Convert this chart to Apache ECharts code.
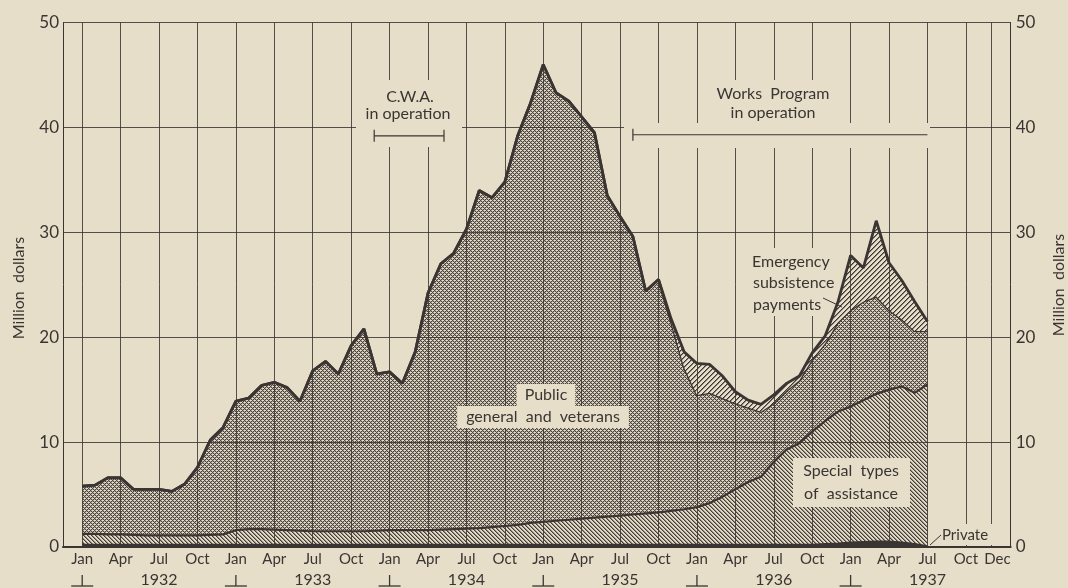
<!DOCTYPE html>
<html><head><meta charset="utf-8">
<script src="https://cdn.jsdelivr.net/npm/echarts@6/dist/echarts.min.js"></script>
<style>html,body{margin:0;padding:0;background:#e7dec9;}#c{width:1068px;height:588px;}</style>
</head><body><div id="c"></div>
<script>
// ---- data (month index 0 = Jan 1932, 66 = Jul 1937), million dollars ----
const monthNames = ['Jan','Feb','Mar','Apr','May','Jun','Jul','Aug','Sep','Oct','Nov','Dec'];
const xTickMonths = [0,3,6,9,12,15,18,21,24,27,30,33,36,39,42,45,48,51,54,57,60,63,66,69,71];
const xTickLabels = ['Jan','Apr','Jul','Oct','Jan','Apr','Jul','Oct','Jan','Apr','Jul','Oct',
  'Jan','Apr','Jul','Oct','Jan','Apr','Jul','Oct','Jan','Apr','Jul','Oct','Dec'];
const yearMonths = [6,18,30,42,54,66];
const yearLabels = ['1932','1933','1934','1935','1936','1937'];
const yearBreaks = [0,12,24,36,48,60];
const yTicks = [10,20,30,40,50];

const privateAid = [0.25,0.25,0.25,0.25,0.25,0.25,0.25,0.25,0.25,0.25,0.25,0.25,
  0.25,0.25,0.25,0.25,0.25,0.25,0.25,0.25,0.25,0.25,0.25,0.25,
  0.25,0.25,0.25,0.25,0.25,0.25,0.25,0.25,0.25,0.25,0.25,0.25,
  0.25,0.25,0.25,0.25,0.25,0.25,0.25,0.25,0.25,0.25,0.25,0.25,
  0.25,0.25,0.25,0.25,0.25,0.25,0.25,0.25,0.25,0.25,0.3,0.35,
  0.45,0.5,0.55,0.55,0.45,0.3,0.1];
const specialTypes = [1.0,1.0,0.95,0.95,0.9,0.85,0.85,0.85,0.85,0.85,0.9,0.95,
  1.35,1.45,1.45,1.4,1.35,1.3,1.25,1.25,1.25,1.25,1.25,1.3,
  1.35,1.35,1.35,1.35,1.4,1.45,1.5,1.55,1.65,1.75,1.85,2.05,
  2.15,2.25,2.35,2.45,2.55,2.65,2.75,2.85,2.95,3.05,3.2,3.35,
  3.55,3.95,4.55,5.25,5.95,6.45,7.85,9.05,9.65,10.75,11.7,12.55,
  12.95,13.5,14.05,14.45,14.85,14.4,15.4];
const publicGeneral = [4.55,4.65,5.4,5.4,4.35,4.4,4.4,4.2,4.9,6.5,9.05,10.2,
  12.3,12.5,13.7,14.05,13.6,12.35,15.3,16.2,15.0,17.7,19.3,14.95,
  15.1,14.0,17.0,22.6,25.35,26.3,28.55,32.2,31.4,32.8,37.1,40.0,
  43.6,40.8,39.9,38.3,36.7,30.6,28.5,26.5,21.2,22.2,17.95,13.5,
  10.7,10.5,9.4,8.2,7.1,6.2,5.6,5.6,6.0,6.9,7.4,8.5,
  9.2,9.4,9.3,7.6,6.4,5.9,5.1];
const emergencySubsistence = [0,0,0,0,0,0,0,0,0,0,0,0,
  0,0,0,0,0,0,0,0,0,0,0,0,
  0,0,0,0,0,0,0,0,0,0,0,0,
  0,0,0,0,0,0,0,0,0,0,0.3,1.5,
  3.0,2.7,2.1,1.1,0.7,0.7,0.8,0.7,0.4,0.6,0.7,1.9,
  5.2,3.2,7.2,4.5,3.7,2.8,0.9];

// category axis: one padding month on each side (Dec 1931 ... Jan 1938)
const cats = ['1931-Dec'];
for (let y = 1932; y <= 1937; y++) monthNames.forEach(m => cats.push(y + '-' + m));
cats.push('1938-Jan');

// ---- styling ----
const INK = '#3a3532', PAPER = '#e7dec9';
const inkRGB = [58,53,50], paperRGB = [231,222,201];
function mix(a,b,t){return [0,1,2].map(k=>Math.round(a[k]*(1-t)+b[k]*t));}
function tile(size, fn){
  const c=document.createElement('canvas'); c.width=c.height=size;
  const ctx=c.getContext('2d'); const img=ctx.createImageData(size,size);
  for(let y=0;y<size;y++)for(let x=0;x<size;x++){
    const col=fn(x,y); const o=(y*size+x)*4;
    img.data[o]=col[0];img.data[o+1]=col[1];img.data[o+2]=col[2];img.data[o+3]=255;}
  ctx.putImageData(img,0,0); return c;
}
const crossTile = tile(4,(x,y)=>{const a=(x+y)%4,b=((x-y)%4+4)%4;
  if(a===0||b===0) return mix(inkRGB,paperRGB,0.08);
  if(a===1||b===1) return mix(inkRGB,paperRGB,0.68);
  return paperRGB;});
const specialTile = tile(4,(x,y)=>{const b=((x-y)%4+4)%4;
  return b===0?mix(inkRGB,paperRGB,0.05):(b===1?mix(inkRGB,paperRGB,0.5):mix(inkRGB,paperRGB,0.97));});
const emergTile = tile(5,(x,y)=>{const a=(x+y)%5;
  return a===0?mix(inkRGB,paperRGB,0.0):(a===1?mix(inkRGB,paperRGB,0.45):paperRGB);});

const FONT='Lato';
const pairs = arr => arr.map((v,i)=>[i+1,v]);
const baseSeries = {type:'line', stack:'total', symbol:'none', showSymbol:false, smooth:false,
  silent:true, emphasis:{disabled:true}};
const tickIdx = new Set(xTickMonths.map(m=>m+1));
const yearIdx = new Set(yearMonths.map(m=>m+1));

const chart = echarts.init(document.getElementById('c'), null, {renderer:'canvas'});
chart.setOption({
  backgroundColor: PAPER,
  animation: false,
  grid: {left:63, right:57.3, top:22.5, bottom:40.5},
  xAxis: [
    {type:'category', data:cats, boundaryGap:true, position:'bottom',
     axisLine:{show:true, lineStyle:{color:INK, width:2}},
     axisTick:{show:false}, splitLine:{show:false},
     axisLabel:{interval:(i)=>tickIdx.has(i),
       formatter:(v)=>{const k=xTickMonths.indexOf(cats.indexOf(v)-1); if(k<0) return '';
         return xTickLabels[k]==='Dec' ? '{d|Dec}' : xTickLabels[k];},
       rich:{d:{color:INK, fontSize:15, fontFamily:FONT, padding:[0,0,0,12]}},
       color:INK, fontSize:15, fontFamily:FONT, margin:5}},
    {type:'category', data:cats, boundaryGap:true, position:'bottom',
     axisLine:{show:false}, axisTick:{show:false}, splitLine:{show:false},
     axisLabel:{interval:(i)=>yearIdx.has(i),
       formatter:(v)=>{const k=yearMonths.indexOf(cats.indexOf(v)-1); return k>=0?yearLabels[k]:'';},
       color:INK, fontSize:16, fontFamily:FONT, margin:25}}
  ],
  yAxis: [
    {type:'value', min:0, max:50, interval:10, position:'left',
     axisLine:{show:true, lineStyle:{color:INK, width:1}}, axisTick:{show:false}, splitLine:{show:false},
     axisLabel:{color:INK, fontSize:17, fontFamily:FONT, margin:4}},
    {type:'value', min:0, max:50, interval:10, position:'right',
     axisLine:{show:true, lineStyle:{color:INK, width:1}}, axisTick:{show:false}, splitLine:{show:false},
     axisLabel:{color:INK, fontSize:17, fontFamily:FONT, margin:5}}
  ],
  series: [
    Object.assign({}, baseSeries, {name:'Private', data:pairs(privateAid), z:2,
      lineStyle:{color:INK, width:1.5}, areaStyle:{color:INK, opacity:1}}),
    Object.assign({}, baseSeries, {name:'Special types of assistance', data:pairs(specialTypes), z:2,
      lineStyle:{color:INK, width:2.2}, areaStyle:{color:{image:specialTile, repeat:'repeat'}, opacity:1}}),
    Object.assign({}, baseSeries, {name:'Public general and veterans', data:pairs(publicGeneral), z:2,
      lineStyle:{color:INK, width:2.6}, areaStyle:{color:{image:crossTile, repeat:'repeat'}, opacity:1}}),
    Object.assign({}, baseSeries, {name:'Emergency subsistence payments', data:pairs(emergencySubsistence), z:4,
      lineStyle:{color:INK, width:2.8}, areaStyle:{color:{image:emergTile, repeat:'repeat'}, opacity:1}}),
    {type:'line', name:'grid', data:[], silent:true, z:3,
     markLine:{silent:true, symbol:['none','none'], animation:false, label:{show:false},
       emphasis:{disabled:true},
       lineStyle:{color:INK, width:1, type:'solid', opacity:0.85},
       data:[...xTickMonths.map(m=>({xAxis:cats[m+1]})), ...yTicks.map(v=>({yAxis:v}))]}}
  ]
});

const x0 = chart.convertToPixel({xAxisIndex:0}, cats[1]);
const x1 = chart.convertToPixel({xAxisIndex:0}, cats[2]);
const px = m => x0 + (x1 - x0) * m;
const py = v => chart.convertToPixel({yAxisIndex:0}, v);
const G = [];
function box(a,b,c,d){G.push({type:'rect', z:50, silent:true, shape:{x:a,y:b,width:c-a,height:d-b}, style:{fill:PAPER}});}
function txt(s,x,y,size,align,rot){G.push({type:'text', z:60, silent:true, x:x, y:y, rotation:rot||0,
  style:{text:s, x:0, y:0, fill:INK, font:(size||16)+'px '+FONT, align:align||'center', textAlign:align||'center',
  verticalAlign:'middle', textVerticalAlign:'middle'}});}
function seg(xa,ya,xb,yb,w){G.push({type:'line', z:60, silent:true, shape:{x1:xa,y1:ya,x2:xb,y2:yb}, style:{stroke:INK, lineWidth:w||1.2}});}

// C.W.A. annotation
box(356,80,462,147);
txt('C.W.A.',410,97,16); txt('in operation',408,114,16);
{const y=py(39.2), a=px(22.8), b=px(28.25); seg(a,y,b,y); seg(a,y-6,a,y+6); seg(b,y-6,b,y+6);}
// Works Program annotation
box(705,80,840,148); box(624,123,930,148);
txt('Works  Program',773,94,16); txt('in operation',773,113,16);
{const y=py(39.3), a=px(43), b=px(66); seg(a,y,b,y); seg(a,y-6,a,y+6);}
// series labels
G.push({type:'text', z:60, silent:true, x:546, y:395, style:{text:'Public', fill:INK, font:'16px '+FONT,
  align:'center', verticalAlign:'middle', textAlign:'center', textVerticalAlign:'middle', backgroundColor:PAPER, padding:[3,8]}});
G.push({type:'text', z:60, silent:true, x:543, y:417, style:{text:'general  and  veterans', fill:INK, font:'16px '+FONT,
  align:'center', verticalAlign:'middle', textAlign:'center', textVerticalAlign:'middle', backgroundColor:PAPER, padding:[3,9]}});
box(793,458,910,507);
txt('Special  types',851,471,16); txt('of  assistance',851,494,16);
box(745,248,836,293); box(745,293,822,316);
txt('Emergency',752,262,16,'left'); txt('subsistence',753,283,16,'left'); txt('payments',753,305,16,'left');
seg(823,298,842,307,1);
box(938,524,996,545);
txt('Private',942,535,15,'left');
seg(930,545,941,535,1);
// year separators
yearBreaks.forEach(m=>{const x=px(m); seg(x-11,586,x+11,586,1.3); seg(x,575,x,586,1.3);});
// axis names
txt('Million  dollars',19,288,16,'center',Math.PI/2);
txt('Million  dollars',1059,285,16,'center',Math.PI/2);
chart.setOption({graphic:G});
</script></body></html>
